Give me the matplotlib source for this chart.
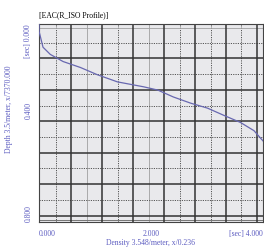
import numpy as np
import matplotlib.pyplot as plt

# profile curve (density vs depth)
density = [0.0, 0.0, 0.07, 0.20, 0.43, 0.74, 1.04, 1.40, 1.87, 2.12, 2.40, 2.71, 3.01, 3.30, 3.60, 3.84, 4.0]
depth = [0.0, 0.03, 0.094, 0.123, 0.152, 0.176, 0.205, 0.234, 0.254, 0.267, 0.295, 0.32, 0.34, 0.369, 0.398, 0.431, 0.472]

x_ticks = [0.0, 2.0, 4.0]
x_labels = ['0.000', '2.000', '[sec] 4.000']
y_ticks = [0.0, 0.4, 0.8]
y_labels = ['[sec] 0.000', '0.400', '0.800']

title = '[EAC(R_ISO Profile)]'
xlabel = 'Density 3.548/meter, x/0.236'
ylabel = 'Depth 3.5/meter, x/7370.000'

txt_blue = '#5b5bc0'
serif = 'Liberation Serif'

fig = plt.figure(figsize=(2.64, 2.49), dpi=100)
ax = fig.add_axes([0.148, 0.108, 0.848, 0.796])
ax.set_facecolor('#e9e9ec')
ax.set_xlim(0, 4.0)
ax.set_ylim(0.8, 0.0)

# grid lines
major_x = np.arange(0.575, 4.0, 0.553)
major_y = np.arange(0.139, 0.8, 0.127)
for i, gx in enumerate(major_x - 0.2765):
    if gx <= 0:
        continue
    if i in (1, 3):
        ax.axvline(gx, color='#a0a0a0', lw=0.6)
    else:
        ax.axvline(gx, color='#555555', lw=0.7, ls=(0, (1.2, 1.2)))
for gy in major_y - 0.0635:
    ax.axhline(gy, color='#555555', lw=0.7, ls=(0, (1.2, 1.2)))
ax.axhline(0.018, color='#a0a0a0', lw=0.6)
ax.axhline(0.79, color='#777777', lw=0.7)
for gx in major_x:
    ax.axvline(gx, color='#333333', lw=1.1)
for gy in major_y:
    ax.axhline(gy, color='#333333', lw=1.1)

ax.plot(density, depth, color='#6868b0', lw=0.9, zorder=5)

for s in ax.spines.values():
    s.set_color('#444444')
    s.set_linewidth(0.8)
ax.tick_params(length=0)
ax.set_xticks([])
ax.set_yticks([])

# tick labels placed along edges
ha_x = ['left', 'center', 'right']
for v, lab, ha in zip(x_ticks, x_labels, ha_x):
    ax.text(v, 0.83, lab, ha=ha, va='top', fontsize=5.5, color=txt_blue, family=serif)
va_y = ['top', 'center', 'bottom']
for v, lab, va in zip(y_ticks, y_labels, va_y):
    ax.text(-0.12, v if v != 0.4 else 0.35, lab, ha='right', va=va, rotation=90,
            fontsize=5.5, color=txt_blue, family=serif)

ax.text(0.0, -0.02, title, ha='left', va='bottom', fontsize=5.5, color='black', family=serif)
fig.text(0.57, 0.025, xlabel, ha='center', va='center', fontsize=5.5, color=txt_blue, family=serif)
fig.text(0.035, 0.56, ylabel, ha='center', va='center', rotation=90, fontsize=5.5, color=txt_blue, family=serif)

fig.savefig('out.png', dpi=100)
